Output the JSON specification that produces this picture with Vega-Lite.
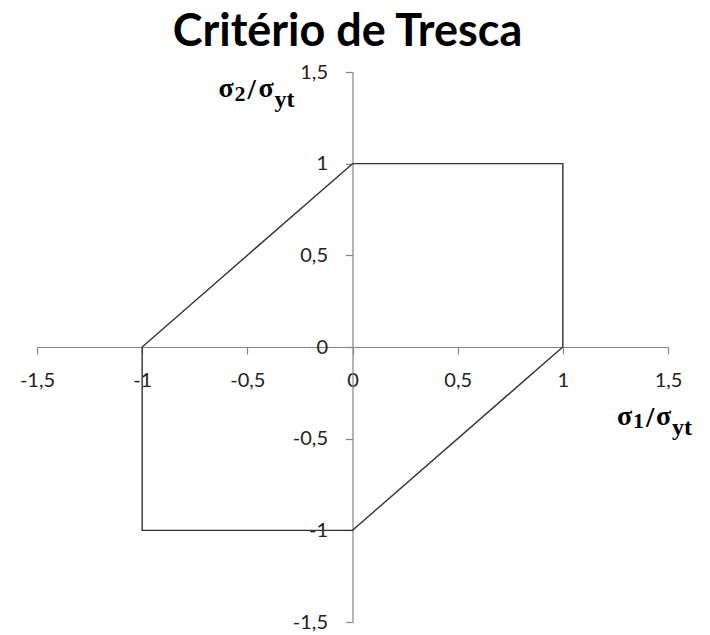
{
  "$schema": "https://vega.github.io/schema/vega-lite/v6.json",
  "width": 631,
  "height": 550,
  "autosize": {"type": "none"},
  "padding": {"left": 37, "top": 72, "right": 42, "bottom": 13},
  "background": "white",
  "encoding": {
    "x": {
      "type": "quantitative",
      "scale": {"domain": [-1.5, 1.5], "nice": false, "zero": false},
      "axis": {
        "orient": "bottom",
        "offset": -275,
        "values": [-1.5, -1, -0.5, 0, 0.5, 1, 1.5],
        "labelExpr": "(datum.value < 0 ? '-' : '') + replace(toString(abs(datum.value)), '.', ',')",
        "title": null
      }
    },
    "y": {
      "type": "quantitative",
      "scale": {"domain": [-1.5, 1.5], "nice": false, "zero": false},
      "axis": {
        "orient": "left",
        "offset": -315.5,
        "values": [-1.5, -1, -0.5, 0, 0.5, 1, 1.5],
        "labelExpr": "(datum.value < 0 ? '-' : '') + replace(toString(abs(datum.value)), '.', ',')",
        "title": null
      }
    }
  },
  "layer": [
    {
      "data": {
        "values": [
          {"order": 1, "s1": 0, "s2": 1},
          {"order": 2, "s1": 1, "s2": 1},
          {"order": 3, "s1": 1, "s2": 0},
          {"order": 4, "s1": 0, "s2": -1},
          {"order": 5, "s1": -1, "s2": -1},
          {"order": 6, "s1": -1, "s2": 0},
          {"order": 7, "s1": 0, "s2": 1}
        ]
      },
      "mark": {"type": "line", "color": "#333333", "strokeWidth": 1.4, "clip": false},
      "encoding": {
        "x": {"field": "s1"},
        "y": {"field": "s2"},
        "order": {"field": "order", "type": "quantitative"}
      }
    },
    {
      "data": {"values": [{}]},
      "encoding": {"x": {"datum": 0}, "y": {"datum": 1.5}},
      "mark": {"type": "text", "text": "Critério de Tresca", "font": "Lato", "fontWeight": "bold", "fontSize": 45, "align": "center", "baseline": "alphabetic", "dx": -5, "dy": -26, "color": "#000000"}
    },
    {
      "data": {"values": [{}]},
      "encoding": {"x": {"datum": 1.5}, "y": {"datum": 0}},
      "layer": [
        {"mark": {"type": "text", "text": "σ", "font": "Liberation Serif", "fontWeight": "bold", "fontSize": 28, "align": "left", "baseline": "alphabetic", "dx": -51, "dy": 78, "color": "#000000"}},
        {"mark": {"type": "text", "text": "1", "font": "Liberation Serif", "fontWeight": "bold", "fontSize": 22, "align": "left", "baseline": "alphabetic", "dx": -35, "dy": 81, "color": "#000000"}},
        {"mark": {"type": "text", "text": "/", "font": "Liberation Serif", "fontWeight": "bold", "fontSize": 30, "align": "left", "baseline": "alphabetic", "dx": -22, "dy": 80, "color": "#000000"}},
        {"mark": {"type": "text", "text": "σ", "font": "Liberation Serif", "fontWeight": "bold", "fontSize": 28, "align": "left", "baseline": "alphabetic", "dx": -12, "dy": 78, "color": "#000000"}},
        {"mark": {"type": "text", "text": "yt", "font": "Liberation Serif", "fontWeight": "bold", "fontSize": 24, "align": "left", "baseline": "alphabetic", "dx": 4, "dy": 88, "color": "#000000"}}
      ]
    },
    {
      "data": {"values": [{}]},
      "encoding": {"x": {"datum": 0}, "y": {"datum": 1.5}},
      "layer": [
        {"mark": {"type": "text", "text": "σ", "font": "Liberation Serif", "fontWeight": "bold", "fontSize": 28, "align": "left", "baseline": "alphabetic", "dx": -134, "dy": 25, "color": "#000000"}},
        {"mark": {"type": "text", "text": "2", "font": "Liberation Serif", "fontWeight": "bold", "fontSize": 22, "align": "left", "baseline": "alphabetic", "dx": -118, "dy": 29, "color": "#000000"}},
        {"mark": {"type": "text", "text": "/", "font": "Liberation Serif", "fontWeight": "bold", "fontSize": 30, "align": "left", "baseline": "alphabetic", "dx": -105, "dy": 27, "color": "#000000"}},
        {"mark": {"type": "text", "text": "σ", "font": "Liberation Serif", "fontWeight": "bold", "fontSize": 28, "align": "left", "baseline": "alphabetic", "dx": -94, "dy": 25, "color": "#000000"}},
        {"mark": {"type": "text", "text": "yt", "font": "Liberation Serif", "fontWeight": "bold", "fontSize": 24, "align": "left", "baseline": "alphabetic", "dx": -78, "dy": 35, "color": "#000000"}}
      ]
    }
  ],
  "config": {
    "view": {"stroke": null},
    "axis": {
      "grid": false,
      "domainColor": "#868686",
      "domainWidth": 1.2,
      "tickColor": "#868686",
      "tickWidth": 1.2,
      "tickSize": 7,
      "labelFont": "Lato",
      "labelFontSize": 20,
      "labelColor": "#222222",
      "labelOverlap": false,
      "labelFlush": false
    },
    "axisX": {"labelPadding": 16},
    "axisY": {"labelPadding": 18}
  }
}
